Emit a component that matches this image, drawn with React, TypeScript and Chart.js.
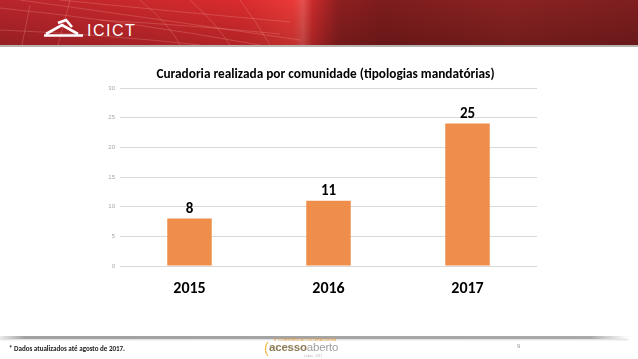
import React, { useEffect, useRef } from "react";
import { Chart, registerables } from "chart.js";

Chart.register(...registerables);

const titleText = "Curadoria realizada por comunidade (tipologias mandatórias)";
const categories = ["2015", "2016", "2017"];
const values = [8, 11, 24];
const valueLabels = ["8", "11", "25"];
const yMax = 30;
const yStep = 5;

const FONT = "Carlito, 'Liberation Sans Narrow', 'Liberation Sans', Arial, sans-serif";

const valueLabelPlugin = {
  id: "valueLabelPlugin",
  afterDatasetsDraw(chart: any) {
    const ctx = chart.ctx;
    const meta = chart.getDatasetMeta(0);
    const area = chart.chartArea;
    ctx.save();
    ctx.font = "bold 15px " + FONT;
    ctx.fillStyle = "#000000";
    ctx.textAlign = "center";
    ctx.textBaseline = "alphabetic";
    meta.data.forEach((bar: any, i: number) => {
      ctx.fillText(valueLabels[i], bar.x, bar.y - 6);
    });
    ctx.font = "bold 13.3px " + FONT;
    ctx.textBaseline = "middle";
    ctx.fillText(titleText, (area.left + area.right) / 2 - 3, 75);
    ctx.restore();
  },
};

function Header() {
  return (
    <div
      style={{
        position: "absolute",
        left: 0,
        top: 0,
        width: 638,
        height: 45,
        overflow: "hidden",
        background:
          "linear-gradient(90deg, #b7252b 0%, #c8282c 20%, #d92b2e 38%, #ea3a37 46%, #e5514f 47.5%, #c82a2b 49%, #8e1f20 53%, #7e1c1d 60%, #8a2222 80%, #7f1e1f 100%)",
        borderBottom: "2px solid #b9b3b0",
      }}
    >
      <svg width={638} height={45} style={{ position: "absolute", left: 0, top: 0 }}>
        <defs>
          <linearGradient id="shade" x1="0" y1="0" x2="0" y2="1">
            <stop offset="0" stopColor="#000" stopOpacity="0" />
            <stop offset="1" stopColor="#000" stopOpacity="0.18" />
          </linearGradient>
        </defs>
        <rect x={0} y={0} width={638} height={45} fill="url(#shade)" />
        <g stroke="#ffb0a8" strokeOpacity={0.35} strokeWidth={0.7} fill="none">
          <path d="M0 8 Q120 20 260 45" />
          <path d="M20 0 Q150 18 300 40" />
          <path d="M60 0 Q180 12 290 22" />
          <path d="M0 30 Q100 34 200 45" />
          <path d="M140 0 Q170 25 180 45" />
          <path d="M190 0 Q215 22 230 45" />
          <path d="M240 0 Q255 20 270 45" />
          <path d="M70 0 L58 45" />
          <path d="M30 5 L22 45" />
          <path d="M100 20 Q200 26 280 34" />
        </g>
        <g fill="none" stroke="#ffffff" strokeWidth={2.6} strokeLinejoin="miter">
          <path d="M44 35.5 L83 35.5" />
          <path d="M46 34 L62 25 L78 34" />
          <path d="M58 23 L66 20 L72 27" />
        </g>
      </svg>
      <div
        style={{
          position: "absolute",
          left: 87,
          top: 22,
          color: "#ffffff",
          fontFamily: "'Liberation Sans', Arial, sans-serif",
          fontSize: 16,
          lineHeight: "17px",
          letterSpacing: 1.5,
        }}
      >
        ICICT
      </div>
    </div>
  );
}

function Footer() {
  return (
    <>
      <div
        style={{
          position: "absolute",
          left: 0,
          top: 336,
          width: 628,
          height: 3,
          background:
            "linear-gradient(90deg, rgba(150,150,150,0.2) 0%, rgba(150,150,150,0.9) 4%, rgba(160,160,160,0.9) 94%, rgba(200,200,200,0) 100%)",
          boxShadow: "0 1px 2px rgba(0,0,0,0.15)",
        }}
      />
      <div
        style={{
          position: "absolute",
          left: 9,
          top: 344,
          fontFamily: "Carlito, 'Liberation Sans', Arial, sans-serif",
          fontWeight: "bold",
          fontSize: 7,
          color: "#1a1a1a",
          whiteSpace: "nowrap",
        }}
      >
        * Dados atualizados até agosto de 2017.
      </div>
      <div style={{ position: "absolute", left: 264, top: 338, width: 76, height: 20 }}>
        <div
          style={{
            position: "absolute",
            left: 10,
            top: 0,
            fontFamily: "'Liberation Sans', Arial, sans-serif",
            fontSize: 3.5,
            color: "#e39a3a",
            whiteSpace: "nowrap",
          }}
        >
          8ª CONFERÊNCIA LUSO-BRASILEIRA
        </div>
        <div
          style={{
            position: "absolute",
            left: 0,
            top: 2,
            fontFamily: "'Liberation Sans', Arial, sans-serif",
            fontSize: 14,
            color: "#f0b640",
          }}
        >
          (
        </div>
        <div
          style={{
            position: "absolute",
            left: 5,
            top: 3,
            fontFamily: "'Liberation Sans', Arial, sans-serif",
            fontSize: 11.5,
            whiteSpace: "nowrap",
            letterSpacing: -0.2,
          }}
        >
          <span style={{ color: "#8c7b55", fontWeight: "bold" }}>acesso</span>
          <span style={{ color: "#a0a0a0" }}>aberto</span>
        </div>
        <div
          style={{
            position: "absolute",
            left: 40,
            top: 16,
            fontFamily: "'Liberation Sans', Arial, sans-serif",
            fontSize: 3,
            color: "#b0b0b0",
            whiteSpace: "nowrap",
          }}
        >
          Lisboa · 2017
        </div>
      </div>
      <div
        style={{
          position: "absolute",
          left: 517,
          top: 343,
          fontFamily: "'Liberation Sans', Arial, sans-serif",
          fontSize: 6,
          color: "#9a9a9a",
        }}
      >
        9
      </div>
    </>
  );
}

export default function App() {
  const canvasRef = useRef<HTMLCanvasElement | null>(null);

  useEffect(() => {
    if (!canvasRef.current) return;
    const chart = new Chart(canvasRef.current, {
      type: "bar",
      data: {
        labels: categories,
        datasets: [
          {
            data: values,
            backgroundColor: "#ee8e4a",
            borderWidth: 0,
            barPercentage: 0.32,
            categoryPercentage: 1,
          },
        ],
      },
      options: {
        animation: false,
        responsive: false,
        maintainAspectRatio: false,
        devicePixelRatio: 1,
        layout: { padding: { top: 88, right: 101, bottom: 53, left: 0 } },
        plugins: {
          legend: { display: false },
          tooltip: { enabled: false },
          title: { display: false },
        },
        scales: {
          x: {
            grid: { display: false, drawTicks: false },
            border: { display: false },
            ticks: {
              color: "#000000",
              font: { family: FONT, size: 16, weight: "bold" },
              padding: 13,
            },
            afterFit: (scale: any) => {
              scale.height = 40;
            },
          },
          y: {
            min: 0,
            max: yMax,
            ticks: {
              stepSize: yStep,
              color: "#a6a6a6",
              font: { family: "'Liberation Sans', Arial, sans-serif", size: 6 },
              padding: 5,
            },
            grid: { color: "#d9d9d9", lineWidth: 1, drawTicks: false },
            border: { display: false },
            afterFit: (scale: any) => {
              scale.width = 120;
            },
          },
        },
      },
      plugins: [valueLabelPlugin],
    });
    return () => chart.destroy();
  }, []);

  return (
    <div
      style={{
        position: "absolute",
        left: 0,
        top: 0,
        width: 638,
        height: 359,
        background: "#ffffff",
        overflow: "hidden",
      }}
    >
      <Header />
      <canvas
        ref={canvasRef}
        width={638}
        height={359}
        style={{ position: "absolute", left: 0, top: 0, width: 638, height: 359 }}
      />
      <Footer />
    </div>
  );
}
